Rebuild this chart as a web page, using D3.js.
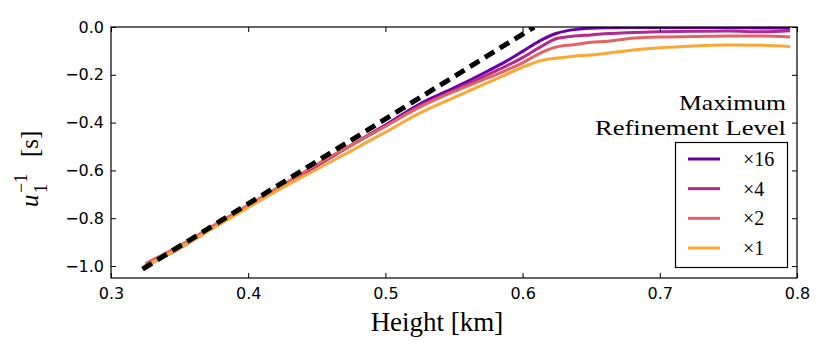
<!DOCTYPE html>
<html>
<head>
<meta charset="utf-8">
<script src="https://cdn.jsdelivr.net/npm/d3@7"></script>
<style>
  html, body { margin: 0; padding: 0; background: #fff; }
  svg { display: block; }
</style>
</head>
<body>
<svg id="chart" width="830" height="363"></svg>
<script>
// ---- data ----
const heights = [0.325, 0.35, 0.375, 0.4, 0.425, 0.45, 0.475, 0.5, 0.525, 0.55, 0.575, 0.5875, 0.6, 0.6125, 0.625, 0.6375, 0.65, 0.6625, 0.675, 0.7, 0.725, 0.75, 0.775, 0.795];
const level16 = [-1.00, -0.925, -0.835, -0.75, -0.665, -0.58, -0.495, -0.41, -0.322, -0.255, -0.183, -0.145, -0.102, -0.058, -0.026, -0.011, -0.005, -0.003, -0.002, -0.002, -0.002, -0.003, -0.004, -0.005];
const level4  = [-1.00, -0.925, -0.835, -0.75, -0.665, -0.58, -0.495, -0.415, -0.33, -0.265, -0.198, -0.165, -0.128, -0.085, -0.048, -0.038, -0.033, -0.027, -0.024, -0.02, -0.018, -0.017, -0.02, -0.016];
const level2  = [-0.99, -0.915, -0.83, -0.745, -0.66, -0.575, -0.495, -0.415, -0.335, -0.27, -0.212, -0.182, -0.15, -0.11, -0.083, -0.074, -0.064, -0.060, -0.05, -0.042, -0.04, -0.038, -0.038, -0.042];
const level1  = [-1.00, -0.925, -0.84, -0.755, -0.672, -0.595, -0.518, -0.44, -0.36, -0.295, -0.232, -0.2, -0.168, -0.142, -0.13, -0.122, -0.117, -0.109, -0.1, -0.087, -0.079, -0.075, -0.076, -0.082];
const theoryHeights = [0.323, 0.6084];
const theoryValues  = [-1.013, 0.0];
const seriesLabels = ["\u00d716", "\u00d74", "\u00d72", "\u00d71"];
const seriesColors = ["#6a00a8", "#b12a90", "#e16462", "#fca636"];
const xTicks = [0.3, 0.4, 0.5, 0.6, 0.7, 0.8];
const yTicks = [0.0, -0.2, -0.4, -0.6, -0.8, -1.0];

// ---- layout ----
const L = 111, R = 797, T = 27, B = 278;
const svg = d3.select("#chart");
const x = d3.scaleLinear().domain([0.3, 0.8]).range([L, R]);
const y = d3.scaleLinear().domain([-1.05, 0.0]).range([B, T]);

const fmt = v => d3.format(".1f")(v).replace("-", "\u2212");

// clip
svg.append("defs").append("clipPath").attr("id", "clip")
  .append("rect").attr("x", L).attr("y", T).attr("width", R - L).attr("height", B - T);

const plot = svg.append("g").attr("clip-path", "url(#clip)");
const line = d3.line().x(d => x(d[0])).y(d => y(d[1])).curve(d3.curveMonotoneX);

const allSeries = [level16, level4, level2, level1];
allSeries.forEach((vals, i) => {
  plot.append("path")
    .datum(heights.map((h, j) => [h, vals[j]]))
    .attr("d", line)
    .attr("fill", "none")
    .attr("stroke", seriesColors[i])
    .attr("stroke-width", 3)
    .attr("stroke-linejoin", "round");
});

plot.append("path")
  .datum(theoryHeights.map((h, j) => [h, theoryValues[j]]))
  .attr("d", d3.line().x(d => x(d[0])).y(d => y(d[1])))
  .attr("fill", "none")
  .attr("stroke", "#000")
  .attr("stroke-width", 5)
  .attr("stroke-dasharray", "11,6.5");

// axes (ticks inward on all sides)
const tl = 5;
const axB = svg.append("g").attr("transform", `translate(0,${B})`)
  .call(d3.axisBottom(x).tickValues(xTicks).tickSizeInner(-tl).tickSizeOuter(0).tickPadding(10).tickFormat(d3.format(".1f")));
const axT = svg.append("g").attr("transform", `translate(0,${T})`)
  .call(d3.axisTop(x).tickValues(xTicks).tickSizeInner(-tl).tickSizeOuter(0).tickFormat(""));
const axL = svg.append("g").attr("transform", `translate(${L},0)`)
  .call(d3.axisLeft(y).tickValues(yTicks).tickSizeInner(-tl).tickSizeOuter(0).tickPadding(7).tickFormat(fmt));
const axR = svg.append("g").attr("transform", `translate(${R},0)`)
  .call(d3.axisRight(y).tickValues(yTicks).tickSizeInner(-tl).tickSizeOuter(0).tickFormat(""));

[axB, axT, axL, axR].forEach(a => {
  a.select(".domain").remove();
  a.selectAll(".tick line").attr("stroke", "#000").attr("stroke-width", 1);
  a.selectAll("text").attr("font-family", "DejaVu Sans").attr("font-size", 16).attr("fill", "#000");
});
axB.selectAll("text").attr("dy", "0.71em");

// frame
svg.append("rect").attr("x", L).attr("y", T).attr("width", R - L).attr("height", B - T)
  .attr("fill", "none").attr("stroke", "#000").attr("stroke-width", 1.2);

// axis labels
svg.append("text").attr("x", 437).attr("y", 331)
  .attr("text-anchor", "middle")
  .attr("font-family", "Liberation Serif").attr("font-size", 27).attr("fill", "#000")
  .text("Height [km]");

const yl = svg.append("g").attr("transform", "translate(38,207) rotate(-90)")
  .attr("font-family", "Liberation Serif").attr("fill", "#000");
yl.append("text").attr("x", 0).attr("y", 0).attr("font-size", 25).attr("font-style", "italic").text("u");
yl.append("text").attr("x", 14).attr("y", -11).attr("font-size", 18).text("\u22121");
yl.append("text").attr("x", 14).attr("y", 9).attr("font-size", 18).text("1");
yl.append("text").attr("x", 50).attr("y", 0).attr("font-size", 25).text("[s]");

// legend
const lg = svg.append("g");
lg.append("text").attr("x", 786).attr("y", 110).attr("text-anchor", "end")
  .attr("font-family", "Liberation Serif").attr("font-size", 22).attr("fill", "#000")
  .attr("textLength", 107).attr("lengthAdjust", "spacingAndGlyphs").text("Maximum");
lg.append("text").attr("x", 786).attr("y", 135).attr("text-anchor", "end")
  .attr("font-family", "Liberation Serif").attr("font-size", 22).attr("fill", "#000")
  .attr("textLength", 191).attr("lengthAdjust", "spacingAndGlyphs").text("Refinement Level");
lg.append("rect").attr("x", 675.5).attr("y", 142.5).attr("width", 112).attr("height", 125)
  .attr("fill", "#fff").attr("stroke", "#000").attr("stroke-width", 1.2);
const ey = d3.scalePoint().domain(seriesLabels).range([159, 248]);
seriesLabels.forEach((lab, i) => {
  lg.append("line").attr("x1", 688).attr("x2", 720).attr("y1", ey(lab)).attr("y2", ey(lab))
    .attr("stroke", seriesColors[i]).attr("stroke-width", 3);
  lg.append("text").attr("x", 743).attr("y", ey(lab) + 7)
    .attr("font-family", "Liberation Serif").attr("font-size", 20).attr("fill", "#000").text(lab);
});
</script>
</body>
</html>
